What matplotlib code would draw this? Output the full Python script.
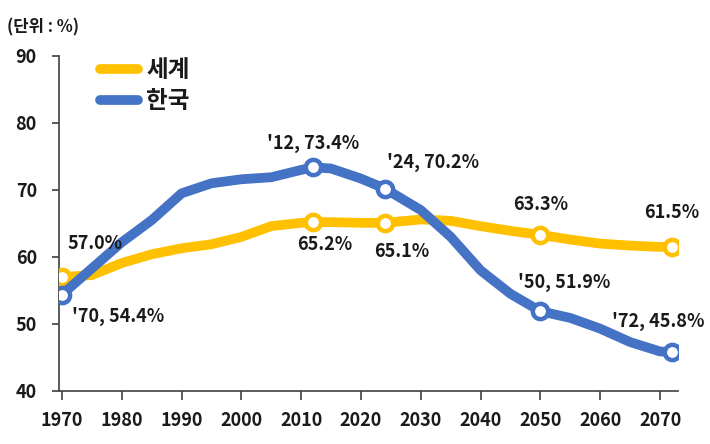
import matplotlib
matplotlib.use("Agg")
import matplotlib.pyplot as plt
import numpy as np

plt.rcParams['font.family'] = ['Noto Sans CJK KR', 'DejaVu Sans']

# values (%)
years = [1970, 1975, 1980, 1985, 1990, 1995, 2000, 2005, 2010, 2012, 2015,
         2020, 2024, 2030, 2035, 2040, 2045, 2050, 2055, 2060, 2065, 2070, 2072]
korea = [54.4, 58.3, 62.2, 65.5, 69.5, 71.0, 71.6, 71.9, 73.0, 73.4, 73.2,
         71.7, 70.2, 67.0, 63.0, 58.0, 54.5, 51.9, 50.9, 49.3, 47.3, 45.9, 45.8]
world = [57.0, 57.3, 59.1, 60.4, 61.3, 61.9, 63.0, 64.6, 65.1, 65.2, 65.2,
         65.1, 65.1, 65.6, 65.4, 64.6, 63.9, 63.3, 62.6, 62.0, 61.7, 61.5, 61.5]

marked_years = [1970, 2012, 2024, 2050, 2072]
korea_labels = ["'70, 54.4%", "'12, 73.4%", "'24, 70.2%", "'50, 51.9%", "'72, 45.8%"]
world_labels = ["57.0%", "65.2%", "65.1%", "63.3%", "61.5%"]

xticks = list(range(1970, 2071, 10))
yticks = list(range(40, 91, 10))

yellow = '#FFC000'
blue = '#4472C4'
txt = '#1a1a1a'
axis_col = '#404040'

years = np.array(years)
korea = np.array(korea)
world = np.array(world)
mask = np.isin(years, marked_years)

fig = plt.figure(figsize=(7.1, 4.44), dpi=100)
ax = fig.add_axes([0.0831, 0.1194, 0.8718, 0.7545])

ax.plot(years, world, color=yellow, lw=7, solid_capstyle='round',
        solid_joinstyle='round', label='세계', zorder=2)
ax.plot(years[mask], world[mask], 'o', ms=11, mfc='white', mec=yellow,
        mew=3.2, zorder=3)
ax.plot(years, korea, color=blue, lw=7, solid_capstyle='round',
        solid_joinstyle='round', label='한국', zorder=4)
ax.plot(years[mask], korea[mask], 'o', ms=11, mfc='white', mec=blue,
        mew=3.2, zorder=5)

# label offsets in points (dx, dy, ha)
k_off = [(7, -16, 'left'), (0, 17, 'center'), (35, 19, 'center'),
         (17, 21, 'center'), (-10, 22, 'center')]
w_off = [(4, 24, 'left'), (8, -16, 'center'), (12, -21, 'center'),
         (0, 22, 'center'), (0, 25, 'center')]

for yr, lab, (dx, dy, ha) in zip(marked_years, korea_labels, k_off):
    v = korea[years == yr][0]
    ax.annotate(lab, (yr, v), xytext=(dx, dy), textcoords='offset points',
                ha=ha, va='center', fontsize=13, fontweight='bold', color=txt,
                zorder=6)
for yr, lab, (dx, dy, ha) in zip(marked_years, world_labels, w_off):
    v = world[years == yr][0]
    ax.annotate(lab, (yr, v), xytext=(dx, dy), textcoords='offset points',
                ha=ha, va='center', fontsize=13, fontweight='bold', color=txt,
                zorder=6)

ax.set_xlim(1969.5, 2073)
ax.set_ylim(40, 90)
ax.set_xticks(xticks)
ax.set_yticks(yticks)
ax.tick_params(axis='x', length=6.5, width=1.2, color=axis_col, pad=8,
               labelsize=13, labelcolor=txt)
ax.tick_params(axis='y', length=5, width=1.2, color=axis_col, pad=11,
               labelsize=13, labelcolor=txt)
for lbl in ax.get_xticklabels() + ax.get_yticklabels():
    lbl.set_fontweight('bold')

for s in ['top', 'right']:
    ax.spines[s].set_visible(False)
for s in ['left', 'bottom']:
    ax.spines[s].set_color(axis_col)
    ax.spines[s].set_linewidth(1.2)

leg = fig.legend(loc='upper left', bbox_to_anchor=(0.141, 0.869), frameon=False,
                 fontsize=17, handlelength=1.6, handletextpad=0.35,
                 labelspacing=0.3, borderpad=0, borderaxespad=0)
for t in leg.get_texts():
    t.set_fontweight('bold')
    t.set_color(txt)

fig.text(0.01, 0.938, '(단위 : %)', fontsize=12, color=txt, ha='left',
         va='center', fontweight='bold')

fig.savefig('out.png', dpi=100)
